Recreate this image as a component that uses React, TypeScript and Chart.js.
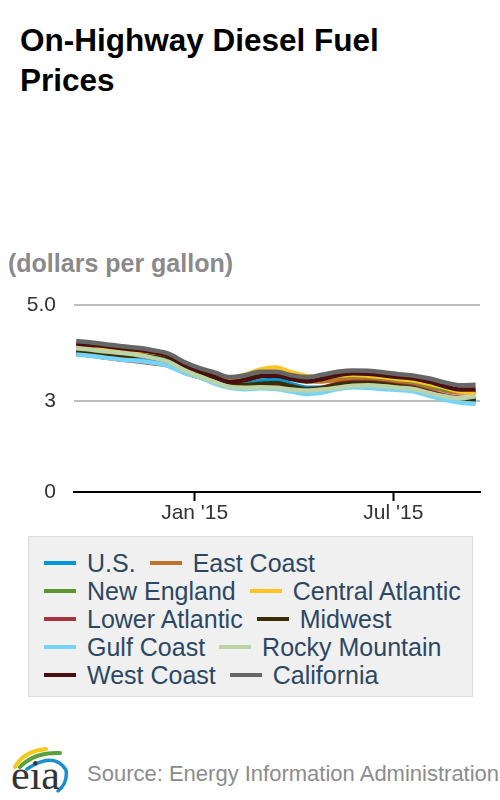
import React, { useEffect, useRef } from "react";
import { Chart, registerables } from "chart.js";

Chart.register(...registerables);

// ---- data ----
const dates = [
  "2014-09-15", "2014-09-29", "2014-10-13", "2014-10-27", "2014-11-10", "2014-11-24",
  "2014-12-08", "2014-12-22", "2015-01-05", "2015-01-19", "2015-02-02", "2015-02-16",
  "2015-03-02", "2015-03-16", "2015-03-30", "2015-04-13", "2015-04-27", "2015-05-11",
  "2015-05-25", "2015-06-08", "2015-06-22", "2015-07-06", "2015-07-20", "2015-08-03",
  "2015-08-17", "2015-08-31", "2015-09-14",
];

const seriesNames = [
  "U.S.", "East Coast", "New England", "Central Atlantic", "Lower Atlantic",
  "Midwest", "Gulf Coast", "Rocky Mountain", "West Coast", "California",
];

const seriesColors = [
  "#0096d7", "#bd732a", "#5d9732", "#ffc424", "#a33340",
  "#3b2e00", "#76d4f6", "#bad4a8", "#4a0f10", "#666666",
];

const usValues = [3.99, 3.96, 3.92, 3.88, 3.87, 3.84, 3.78, 3.63, 3.52, 3.41, 3.32, 3.35, 3.42, 3.44, 3.36, 3.28, 3.28, 3.33, 3.36, 3.36, 3.33, 3.29, 3.26, 3.18, 3.09, 3.02, 3.00];
const eastCoastValues = [4.08, 4.05, 4.01, 3.98, 3.95, 3.91, 3.85, 3.70, 3.58, 3.47, 3.38, 3.44, 3.52, 3.55, 3.48, 3.42, 3.41, 3.44, 3.46, 3.45, 3.43, 3.40, 3.36, 3.29, 3.22, 3.18, 3.19];
const newEnglandValues = [4.05, 4.02, 3.99, 3.97, 3.96, 3.93, 3.88, 3.73, 3.62, 3.55, 3.48, 3.52, 3.58, 3.60, 3.55, 3.50, 3.49, 3.52, 3.54, 3.52, 3.49, 3.45, 3.41, 3.33, 3.25, 3.20, 3.19];
const centralAtlanticValues = [4.12, 4.09, 4.06, 4.03, 4.00, 3.96, 3.90, 3.74, 3.62, 3.52, 3.45, 3.55, 3.66, 3.70, 3.60, 3.52, 3.50, 3.53, 3.55, 3.53, 3.50, 3.46, 3.43, 3.36, 3.28, 3.20, 3.17];
const lowerAtlanticValues = [3.98, 3.95, 3.90, 3.86, 3.83, 3.79, 3.74, 3.60, 3.50, 3.40, 3.31, 3.30, 3.33, 3.34, 3.30, 3.25, 3.28, 3.36, 3.40, 3.40, 3.37, 3.33, 3.29, 3.20, 3.12, 3.07, 3.06];
const midwestValues = [4.04, 4.01, 3.96, 3.92, 3.95, 3.92, 3.86, 3.70, 3.57, 3.44, 3.33, 3.33, 3.36, 3.38, 3.31, 3.25, 3.27, 3.34, 3.38, 3.38, 3.35, 3.31, 3.27, 3.18, 3.10, 3.05, 3.04];
const gulfCoastValues = [3.97, 3.94, 3.90, 3.86, 3.84, 3.80, 3.73, 3.59, 3.50, 3.37, 3.28, 3.25, 3.27, 3.25, 3.20, 3.15, 3.18, 3.25, 3.29, 3.28, 3.25, 3.23, 3.20, 3.11, 3.03, 2.97, 2.94];
const rockyMountainValues = [4.10, 4.07, 4.03, 4.00, 3.96, 3.90, 3.82, 3.65, 3.52, 3.40, 3.30, 3.28, 3.29, 3.28, 3.24, 3.22, 3.24, 3.28, 3.32, 3.33, 3.31, 3.28, 3.25, 3.17, 3.10, 3.06, 3.10];
const westCoastValues = [4.20, 4.17, 4.14, 4.10, 4.07, 4.02, 3.95, 3.76, 3.63, 3.51, 3.40, 3.44, 3.52, 3.53, 3.46, 3.41, 3.46, 3.54, 3.58, 3.57, 3.54, 3.50, 3.47, 3.40, 3.31, 3.24, 3.24];
const californiaValues = [4.25, 4.22, 4.18, 4.14, 4.11, 4.06, 3.99, 3.82, 3.69, 3.60, 3.50, 3.54, 3.61, 3.61, 3.54, 3.50, 3.55, 3.61, 3.64, 3.63, 3.60, 3.56, 3.53, 3.47, 3.39, 3.33, 3.34];

const seriesValues = [
  usValues, eastCoastValues, newEnglandValues, centralAtlanticValues, lowerAtlanticValues,
  midwestValues, gulfCoastValues, rockyMountainValues, westCoastValues, californiaValues,
];

const xTickDates = ["2015-01-01", "2015-07-01"];
const xTickLabels = ["Jan '15", "Jul '15"];
const yTickValues = [1.11, 3, 5];
const yTickLabels = ["0", "3", "5.0"];

const legendRows = [
  [0, 1],
  [2, 3],
  [4, 5],
  [6, 7],
  [8, 9],
];

// ---- helpers ----
const EPOCH = Date.parse("2015-01-01T00:00:00Z");
const toDay = (d: string) => (Date.parse(d + "T00:00:00Z") - EPOCH) / 86400000;

const FONT = '"Liberation Sans", Arial, Helvetica, sans-serif';

function ChartCanvas() {
  const ref = useRef<HTMLCanvasElement | null>(null);
  useEffect(() => {
    if (!ref.current) return;
    const chart = new Chart(ref.current, {
      type: "line",
      data: {
        datasets: seriesNames.map((name, i) => ({
          label: name,
          data: seriesValues[i].map((v, j) => ({ x: toDay(dates[j]), y: v })),
          borderColor: seriesColors[i],
          backgroundColor: seriesColors[i],
          borderWidth: 4.5,
          pointRadius: 0,
          tension: 0.4,
          cubicInterpolationMode: "monotone" as const,
          fill: false,
          order: -i,
        })),
      },
      options: {
        responsive: false,
        animation: false,
        devicePixelRatio: 1,
        layout: { padding: { top: 15, right: 20, bottom: 0, left: 0 } },
        plugins: { legend: { display: false }, tooltip: { enabled: false } },
        scales: {
          x: {
            type: "linear",
            min: -110,
            max: 260,
            afterBuildTicks: (scale: any) => {
              scale.ticks = xTickDates.map((d) => ({ value: toDay(d) }));
            },
            afterFit: (scale: any) => {
              scale.height = 38;
              scale.paddingLeft = 0;
              scale.paddingRight = 0;
            },
            ticks: {
              autoSkip: false,
              maxRotation: 0,
              padding: 0,
              color: "#333333",
              font: { family: FONT, size: 21 },
              callback: (_v: any, idx: number) => xTickLabels[idx],
            },
            grid: {
              display: true,
              drawOnChartArea: false,
              drawTicks: true,
              tickLength: 9,
              tickColor: "#000000",
              tickWidth: 2,
            },
            border: { display: true, color: "#000000", width: 2 },
          },
          y: {
            type: "linear",
            min: 1.11,
            max: 5,
            afterBuildTicks: (scale: any) => {
              scale.ticks = yTickValues.map((v) => ({ value: v }));
            },
            afterFit: (scale: any) => {
              scale.width = 74;
              scale.paddingTop = 0;
              scale.paddingBottom = 0;
            },
            ticks: {
              autoSkip: false,
              padding: 18,
              color: "#333333",
              font: { family: FONT, size: 21 },
              callback: (_v: any, idx: number) => yTickLabels[idx],
            },
            grid: {
              drawTicks: false,
              lineWidth: 2,
              color: (ctx: any) => (ctx.index === 0 ? "rgba(0,0,0,0)" : "#bdbdbd"),
            },
            border: { display: false },
          },
        },
      },
    });
    return () => chart.destroy();
  }, []);
  return (
    <canvas
      ref={ref}
      width={500}
      height={240}
      style={{ position: "absolute", left: 0, top: 290, width: 500, height: 240 }}
    />
  );
}

function Logo() {
  return (
    <svg
      width={80}
      height={65}
      viewBox="0 735 80 65"
      style={{ position: "absolute", left: 0, top: 735 }}
    >
      <path d="M15 767 Q24 751 46 749" stroke="#f2c81a" strokeWidth={4} fill="none" strokeLinecap="round" />
      <path d="M20 767 Q34 752 60 753" stroke="#5aa03c" strokeWidth={4} fill="none" strokeLinecap="round" />
      <path d="M27 769 Q54 751 66 770 Q68 783 58 791" stroke="#1a8fd0" strokeWidth={3.5} fill="none" strokeLinecap="round" />
      <text x={11} y={789} fontFamily='"Liberation Serif", "DejaVu Serif", serif' fontSize={42} fill="#333333">
        eia
      </text>
    </svg>
  );
}

export default function App() {
  return (
    <div
      style={{
        position: "absolute",
        left: 0,
        top: 0,
        width: 500,
        height: 800,
        background: "#ffffff",
        fontFamily: FONT,
        overflow: "hidden",
      }}
    >
      <div
        style={{
          position: "absolute",
          left: 20,
          top: 20,
          width: 440,
          fontSize: 31.5,
          lineHeight: "40px",
          fontWeight: "bold",
          color: "#000000",
        }}
      >
        On-Highway Diesel Fuel Prices
      </div>
      <div
        style={{
          position: "absolute",
          left: 8,
          top: 251,
          fontSize: 25,
          lineHeight: "24px",
          fontWeight: "bold",
          color: "#8a8a8a",
          whiteSpace: "nowrap",
        }}
      >
        (dollars per gallon)
      </div>
      <ChartCanvas />
      <div
        style={{
          position: "absolute",
          left: 28,
          top: 536,
          width: 445,
          height: 161,
          boxSizing: "border-box",
          background: "#f0f0f0",
          border: "1.5px solid #dcdcdc",
          paddingTop: 12,
          paddingLeft: 15,
        }}
      >
        {legendRows.map((row, r) => (
          <div key={r} style={{ display: "flex", alignItems: "center", height: 28, whiteSpace: "nowrap" }}>
            {row.map((idx) => (
              <div key={idx} style={{ display: "flex", alignItems: "center", marginRight: 14 }}>
                <div style={{ width: 32, height: 4, background: seriesColors[idx], marginRight: 11 }} />
                <span style={{ fontSize: 25, color: "#2c4763", lineHeight: "28px" }}>{seriesNames[idx]}</span>
              </div>
            ))}
          </div>
        ))}
      </div>
      <Logo />
      <div
        style={{
          position: "absolute",
          left: 87,
          top: 762,
          fontSize: 22,
          lineHeight: "24px",
          color: "#8c8c8c",
          whiteSpace: "nowrap",
        }}
      >
        Source: Energy Information Administration
      </div>
    </div>
  );
}
